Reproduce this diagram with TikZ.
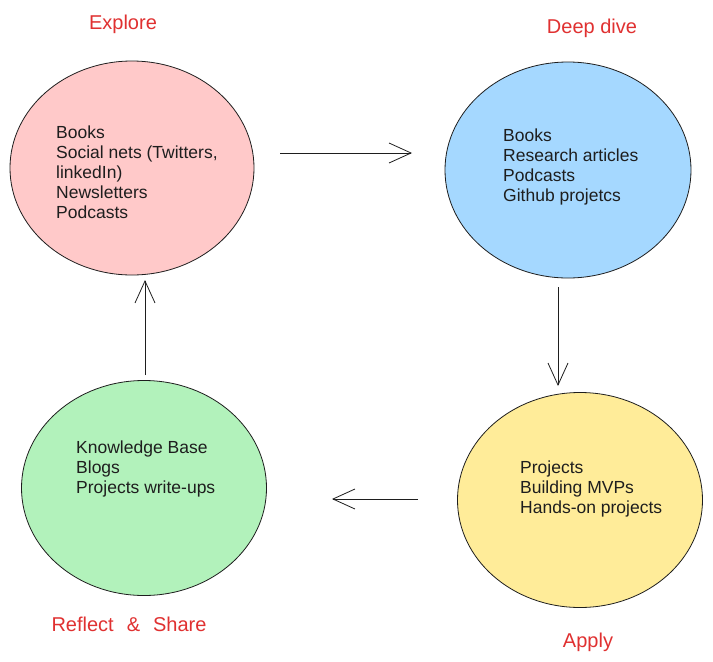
\documentclass[tikz,border=0pt]{standalone}
\usepackage{fontspec}
\setmainfont{Liberation Sans}
\usetikzlibrary{arrows.meta,shapes.geometric}
\definecolor{ink}{HTML}{1E1E1E}
\definecolor{titlered}{HTML}{E03131}
\definecolor{pinkfill}{HTML}{FFC9C9}
\definecolor{bluefill}{HTML}{A5D8FF}
\definecolor{greenfill}{HTML}{B2F2BB}
\definecolor{yellowfill}{HTML}{FFEC99}
\begin{document}
\begin{tikzpicture}[x=1pt,y=-1pt,
  bubble/.style={ellipse, draw=ink, line width=0.8pt, inner sep=0pt},
  title/.style={text=titlered, font=\fontsize{20}{24}\selectfont, anchor=base, inner sep=0pt},
  body/.style={text=ink, font=\fontsize{17.5}{20}\selectfont, align=left, anchor=north west, inner sep=0pt},
  flow/.style={draw=ink, line width=0.8pt, -{Straight Barb[length=22pt,width=20pt,line width=0.8pt]}}
]
\useasboundingbox[fill=white] (0,0) rectangle (713,662);

% bubbles
\node[bubble, fill=pinkfill,   minimum width=244pt, minimum height=214pt] (explore) at (132,168) {};
\node[bubble, fill=bluefill,   minimum width=246pt, minimum height=216pt] (deep)    at (568,170) {};
\node[bubble, fill=greenfill,  minimum width=245pt, minimum height=215pt] (reflect) at (144,488) {};
\node[bubble, fill=yellowfill, minimum width=245pt, minimum height=215pt] (apply)   at (580,500) {};

% titles
\node[title] (texplore) at (123,29) {Explore};
\node[title] (tdeep)    at (592,33) {Deep dive};
\node[title] (treflect) at (129,631) {Reflect\hspace{13pt}\&\hspace{13pt}Share};
\node[title] (tapply)   at (588,647) {Apply};

% contents
\node[body] (bexplore) at (56,126) {Books\\Social nets (Twitters,\\linkedIn)\\Newsletters\\Podcasts};
\node[body] (bdeep)    at (503,129) {Books\\Research articles\\Podcasts\\Github projetcs};
\node[body] (breflect) at (76,441) {Knowledge Base\\Blogs\\Projects write-ups};
\node[body] (bapply)   at (520,461) {Projects\\Building MVPs\\Hands-on projects};

% connector ends
\coordinate (e2ds) at (280,153);
\coordinate (e2de) at (412,153);
\coordinate (d2as) at (558,287);
\coordinate (d2ae) at (558,386);
\coordinate (a2rs) at (418,499);
\coordinate (a2re) at (332,499);
\coordinate (r2es) at (145,375);
\coordinate (r2ee) at (145,280);

\draw[flow] (e2ds) -- (e2de);
\draw[flow] (d2as) -- (d2ae);
\draw[flow] (a2rs) -- (a2re);
\draw[flow] (r2es) -- (r2ee);
\end{tikzpicture}
\end{document}
